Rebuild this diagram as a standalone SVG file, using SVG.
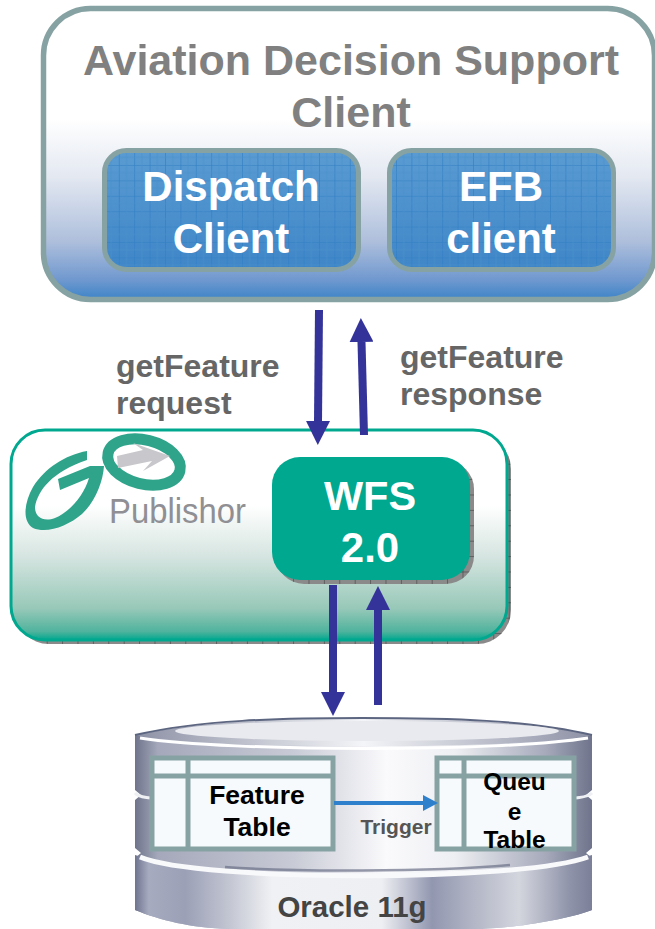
<svg xmlns="http://www.w3.org/2000/svg" width="655" height="929" viewBox="0 0 655 929">
<defs>
<linearGradient id="clientFill" x1="0" y1="0" x2="0" y2="1"><stop offset="0" stop-color="#fff"/><stop offset=".38" stop-color="#fff"/><stop offset=".58" stop-color="#e3e8f1"/><stop offset=".8" stop-color="#aebfdc"/><stop offset=".93" stop-color="#7199cf"/><stop offset="1" stop-color="#3c84c8"/></linearGradient>
<linearGradient id="blueFill" x1="0" y1="0" x2="0" y2="1"><stop offset="0" stop-color="#5a9bd2"/><stop offset="1" stop-color="#3f86c8"/></linearGradient>
<linearGradient id="goFill" x1="0" y1="0" x2="0" y2="1"><stop offset="0" stop-color="#fff"/><stop offset=".36" stop-color="#fff"/><stop offset=".6" stop-color="#d6e5e1"/><stop offset=".85" stop-color="#97c8b8"/><stop offset=".96" stop-color="#4fb39d"/><stop offset="1" stop-color="#00a88f"/></linearGradient>
<linearGradient id="steel" x1="0" y1="0" x2="1" y2="0"><stop offset="0" stop-color="#6f748c"/><stop offset=".05" stop-color="#a4a8ba"/><stop offset=".35" stop-color="#c9cbd6"/><stop offset=".55" stop-color="#fafafc"/><stop offset=".7" stop-color="#eeeff3"/><stop offset=".9" stop-color="#a5a9ba"/><stop offset="1" stop-color="#6f748c"/></linearGradient>
<linearGradient id="steelLow" x1="0" y1="0" x2="1" y2="0"><stop offset="0" stop-color="#6f748f"/><stop offset=".03" stop-color="#a7abc0"/><stop offset=".11" stop-color="#9ba0b6"/><stop offset=".2" stop-color="#c0c3d0"/><stop offset=".3" stop-color="#f0f1f4"/><stop offset=".54" stop-color="#eeeff3"/><stop offset=".65" stop-color="#9297b0"/><stop offset=".735" stop-color="#b0b4c4"/><stop offset=".84" stop-color="#d4d6de"/><stop offset=".95" stop-color="#9094aa"/><stop offset="1" stop-color="#7b7f98"/></linearGradient>
<linearGradient id="rim" x1="0" y1="0" x2="1" y2="0"><stop offset="0" stop-color="#8d91a5"/><stop offset=".5" stop-color="#f4f5f8"/><stop offset="1" stop-color="#8d91a5"/></linearGradient>
<pattern id="grid" width="15.4" height="15.4" patternUnits="userSpaceOnUse" x="11" y="11"><path d="M0 0V15.4M0 0H15.4" fill="none" stroke="#2f7fc4" stroke-width="1.2"/><path d="M7.7 0V15.4M0 7.7H15.4" fill="none" stroke="#4a8fcb" stroke-width=".6"/></pattern>
<pattern id="ticks" width="15.4" height="15.4" patternUnits="userSpaceOnUse" x=".5" y="1.7"><path d="M0 0V15.4M0 0H15.4" fill="none" stroke="#333" stroke-width="1"/></pattern>
<marker id="bigHead" markerUnits="userSpaceOnUse" markerWidth="24" markerHeight="24" refX="0" refY="12" orient="auto"><path d="M0 0L24 12L0 24Z" fill="#33339a"/></marker>
<marker id="trigHead" markerUnits="userSpaceOnUse" markerWidth="16" markerHeight="16" refX="0" refY="8" orient="auto"><path d="M0 0L15 8L0 16Z" fill="#2f80cc"/></marker>
</defs>
<style>
text{font-family:"Liberation Sans",Arial,sans-serif;font-weight:bold;text-anchor:middle}
.titleT{font-size:43px;fill:#808080}
.white{font-size:42px;fill:#fff}
.lab{font-size:32px;fill:#666;text-anchor:start}
.blueBox{fill:url(#blueFill);stroke:none}
.gridBox{fill:url(#grid);stroke:#87a2a3;stroke-width:5}
.shadow{fill:#8a8a8a}
.flow{stroke:#33339a;stroke-width:8;fill:none;marker-end:url(#bigHead)}
.tbl{fill:#f6fafc;stroke:#87a2a3;stroke-width:5}
.black{font-size:26.5px;fill:#000}
.q{font-size:24.5px;fill:#000}
</style>
<rect width="655" height="929" fill="#fff"/>

<g id="client">
<rect x="43.5" y="8.5" width="611" height="291" rx="47" fill="url(#clientFill)" stroke="#87a2a3" stroke-width="5.5"/>
<text class="titleT" x="351" y="75">Aviation Decision Support</text>
<text class="titleT" x="351" y="127">Client</text>
</g>
<g id="dispatch">
<rect class="blueBox" x="104.5" y="150.5" width="254" height="119" rx="22"/>
<rect class="gridBox" x="104.5" y="150.5" width="254" height="119" rx="22"/>
<text class="white" x="231" y="201">Dispatch</text>
<text class="white" x="231" y="253">Client</text>
</g>
<g id="efb">
<rect class="blueBox" x="389.5" y="150.5" width="224" height="119" rx="22"/>
<rect class="gridBox" x="389.5" y="150.5" width="224" height="119" rx="22"/>
<text class="white" x="501" y="201">EFB</text>
<text class="white" x="501" y="253">client</text>
</g>

<g id="gopublisher">
<rect x="15" y="435" width="496" height="209" rx="34" class="shadow"/>
<rect x="15" y="435" width="496" height="209" rx="34" fill="url(#ticks)"/>
<rect x="11" y="430" width="496" height="210" rx="34" fill="url(#goFill)" stroke="#00a88f" stroke-width="3"/>
<g id="logo">
<path d="M87 451C65 455 45 468 33 487C23 505 23 522 33 528C47 534 68 526 82 514C95 502 103 482 104 466L90 466L58 479L60 490L89 478C84 495 70 512 55 518C44 522 35 518 35 507C38 490 52 472 87 460Z" fill="#2fa48a"/>
<ellipse cx="144" cy="462" rx="37" ry="22" transform="rotate(14 144 462)" fill="#fff" stroke="#2fa48a" stroke-width="11"/>
<path d="M117 456L143 450L133 443L170 456L143 471L152 461L118 468Z" fill="#c8c8cc"/>
<text x="109" y="523" font-size="35" textLength="137" lengthAdjust="spacingAndGlyphs" style="font-weight:normal;text-anchor:start;fill:#8f8f94">Publishor</text>
</g>
</g>
<g id="wfs">
<rect x="276" y="461" width="198" height="123" rx="28" class="shadow"/>
<rect x="276" y="461" width="198" height="123" rx="28" fill="url(#ticks)"/>
<rect x="272" y="457" width="198" height="123" rx="28" fill="#00a88f"/>
<text x="370" y="510" style="font-size:41.5px;fill:#fff">WFS</text>
<text x="370" y="562" style="font-size:42px;fill:#fff">2.0</text>
</g>

<g id="oracle">
<path d="M135 735C200 722 280 718 362 718C450 718 530 722 592 735V790L586 795L592 800V848L586 853L592 858V910C560 922 500 929 480 929H230C190 928 160 920 135 910V858L141 853L135 848V800L141 795L135 790Z" fill="url(#steel)"/>
<path d="M135 855C220 882 500 882 592 855V910C560 922 500 929 480 929H230C190 928 160 920 135 910Z" fill="url(#steelLow)"/>
<path d="M140 857C200 882 520 882 588 857" stroke="#f8f9fb" stroke-width="5" fill="none"/>
<path d="M225 867C290 872 430 872 510 865" stroke="#6b7088" stroke-width="2.5" fill="none" opacity=".7"/>
<path d="M135 793C138 797 145 797 150 798M592 793C588 797 582 797 576 798" stroke="#eef0f4" stroke-width="3" fill="none"/>
<path d="M135 735C200 722 280 718 362 718C450 718 530 722 592 735C530 750 200 750 135 735Z" fill="url(#rim)"/>
<path d="M135 735C200 720 280 718 362 718C450 718 530 720 592 735" stroke="#5d6680" stroke-width="2" fill="none"/>
<ellipse cx="367" cy="731" rx="192" ry="10" fill="#e9eaef"/>
<path d="M140 738C230 752 500 752 588 738" stroke="#fff" stroke-width="3" fill="none"/>
<text x="352" y="917" style="font-size:29.5px;fill:#444">Oracle 11g</text>
</g>
<g id="feature-table">
<rect class="tbl" x="152" y="758" width="181" height="91"/>
<path d="M152 776H333M188 758V849" stroke="#87a2a3" stroke-width="5" fill="none"/>
<text class="black" x="257" y="804">Feature</text>
<text class="black" x="257" y="836">Table</text>
</g>
<g id="queue-table">
<rect class="tbl" x="437" y="758" width="137" height="91"/>
<path d="M437 776H574M464 758V849" stroke="#87a2a3" stroke-width="5" fill="none"/>
<text class="q" x="514.5" y="790">Queu</text>
<text class="q" x="514.5" y="820">e</text>
<text class="q" x="514.5" y="848">Table</text>
</g>

<g id="connectors">
<path class="flow" d="M319 310L318 421"/>
<path class="flow" d="M364 435L361.500 342"/>
<path class="flow" d="M333 585V692"/>
<path class="flow" d="M378 705V610"/>
<path d="M334 803H423" stroke="#2f80cc" stroke-width="4" fill="none" marker-end="url(#trigHead)"/>
</g>
<g id="labels">
<text class="lab" x="116" y="377">getFeature</text>
<text class="lab" x="116" y="414">request</text>
<text class="lab" x="400" y="368">getFeature</text>
<text class="lab" x="400" y="405">response</text>
<text x="396" y="834" style="font-size:21px;fill:#555">Trigger</text>
</g>
</svg>
